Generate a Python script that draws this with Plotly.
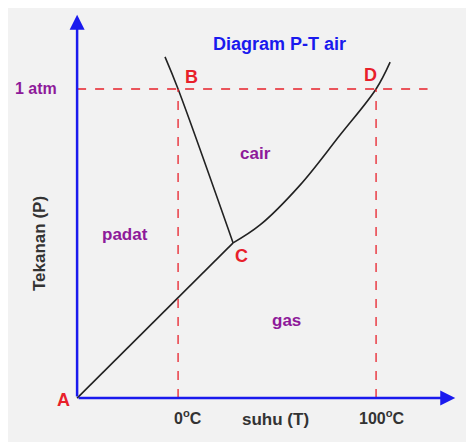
import plotly.graph_objects as go

# temperature (deg C) and pressure (atm)
sublim_T = [-51, 27.8]
sublim_P = [0, 0.502]
fusion_T = [27.8, 0, -6.6]
fusion_P = [0.502, 1.0, 1.104]
vapor_T = [27.8, 41.4, 61.6, 81.8, 100, 107.1]
vapor_P = [0.502, 0.56, 0.689, 0.851, 1.0, 1.087]

T0, P0 = -51, 0

fig = go.Figure()
for tx, py in [(sublim_T, sublim_P), (fusion_T, fusion_P), (vapor_T, vapor_P)]:
    fig.add_trace(go.Scatter(x=tx, y=py, mode="lines", line=dict(color="#222", width=1.6),
                             line_shape="spline", hoverinfo="skip"))

red = "#e8202a"
blue = "#1a1aee"
purple = "#8e1a9a"
dash = dict(color=red, width=1.3, dash="dash")
fig.add_shape(type="line", x0=T0, x1=126, y0=1, y1=1, line=dash)
fig.add_shape(type="line", x0=0, x1=0, y0=0, y1=1, line=dash)
fig.add_shape(type="line", x0=100, x1=100, y0=0, y1=1, line=dash)

# axes with arrows
fig.add_annotation(x=140, y=0, ax=T0, ay=0, xref="x", yref="y", axref="x", ayref="y",
                   showarrow=True, arrowhead=2, arrowsize=1.2, arrowwidth=2.5, arrowcolor=blue, text="")
fig.add_annotation(x=T0, y=1.24, ax=T0, ay=0, xref="x", yref="y", axref="x", ayref="y",
                   showarrow=True, arrowhead=2, arrowsize=1.2, arrowwidth=2.5, arrowcolor=blue, text="")

fnt = "Liberation Sans, Arial"
def txt(x, y, s, color, size=16, bold=True, **kw):
    fig.add_annotation(x=x, y=y, text=f"<b>{s}</b>" if bold else s, showarrow=False,
                       font=dict(family=fnt, size=size, color=color), **kw)

txt(-58, -0.005, "A", red, 18)
txt(7, 1.04, "B", red, 18)
txt(32, 0.46, "C", red, 18)
txt(97, 1.045, "D", red, 18)
txt(51, 1.145, "Diagram P-T air", blue, 18)
txt(-72, 1.0, "1 atm", purple, 16)
txt(-27, 0.53, "padat", purple, 17)
txt(39, 0.79, "cair", purple, 17)
txt(55, 0.25, "gas", purple, 17)
txt(5, -0.06, "0<sup>o</sup>C", "#333", 16)
txt(103, -0.06, "100<sup>o</sup>C", "#333", 16)
txt(49, -0.07, "suhu (T)", "#333", 17)
txt(-70, 0.5, "Tekanan (P)", "#333", 17, textangle=-90)

fig.update_layout(
    width=474, height=442, margin=dict(l=0, r=0, t=0, b=0),
    paper_bgcolor="#f2f2f2", plot_bgcolor="#f2f2f2", showlegend=False,
    xaxis=dict(range=[-85.9, 153.5], visible=False, fixedrange=True),
    yaxis=dict(range=[-0.168, 1.262], visible=False, fixedrange=True),
)
fig.write_html("out.html")
